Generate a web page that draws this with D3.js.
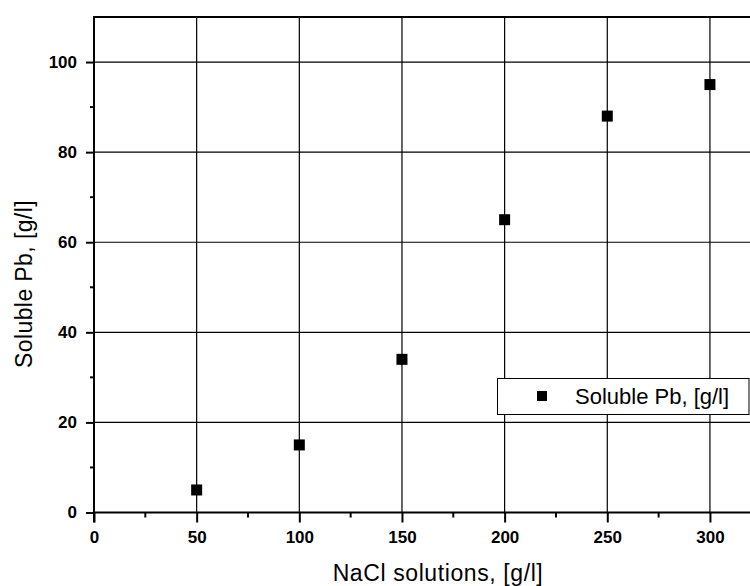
<!DOCTYPE html>
<html>
<head>
<meta charset="utf-8">
<title>Soluble Pb vs NaCl</title>
<script src="https://cdnjs.cloudflare.com/ajax/libs/d3/7.8.5/d3.min.js"></script>
<style>
  body { margin: 0; background: #fff; }
  svg { display: block; font-family: "Liberation Sans", Arial, sans-serif; }
  .tick text { font-weight: bold; font-size: 17px; fill: #000; }
</style>
</head>
<body>
<svg id="chart" width="750" height="586"></svg>
<script>
// data
var nacl = [50, 100, 150, 200, 250, 300];
var solublePb = [5, 15, 34, 65, 88, 95];
var xTicks = [0, 50, 100, 150, 200, 250, 300];
var yTicks = [0, 20, 40, 60, 80, 100];
var xMinor = [25, 75, 125, 175, 225, 275];
var yMinor = [10, 30, 50, 70, 90];
var seriesName = "Soluble Pb, [g/l]";

var svg = d3.select("#chart");
// plot box (the right side runs past the window edge, as in the original)
var pLeft = 94, pRight = 751, pTop = 17, pBottom = 512.5;

var x = d3.scaleLinear().domain([0, 320]).range([pLeft, pRight]);
var y = d3.scaleLinear().domain([0, 110]).range([pBottom, pTop]);

// grid
svg.append("g").selectAll("line").data(xTicks.slice(1)).enter().append("line")
  .attr("x1", d => x(d)).attr("x2", d => x(d))
  .attr("y1", pTop).attr("y2", pBottom)
  .attr("stroke", "#000").attr("stroke-width", 1.2);
svg.append("g").selectAll("line").data(yTicks.slice(1)).enter().append("line")
  .attr("x1", pLeft).attr("x2", pRight)
  .attr("y1", d => y(d)).attr("y2", d => y(d))
  .attr("stroke", "#000").attr("stroke-width", 1.2);

// axes
var xAxis = svg.append("g").attr("transform", "translate(0," + pBottom + ")")
  .call(d3.axisBottom(x).tickValues(xTicks).tickSize(10).tickPadding(8).tickFormat(d3.format("d")));
var yAxis = svg.append("g").attr("transform", "translate(" + pLeft + ",0)")
  .call(d3.axisLeft(y).tickValues(yTicks).tickSize(8).tickPadding(9).tickFormat(d3.format("d")));
[xAxis, yAxis].forEach(function(a) {
  a.select(".domain").remove();
  a.selectAll(".tick line").attr("stroke", "#000").attr("stroke-width", 2);
});

// minor ticks
svg.append("g").selectAll("line").data(xMinor).enter().append("line")
  .attr("x1", d => x(d)).attr("x2", d => x(d))
  .attr("y1", pBottom).attr("y2", pBottom + 5)
  .attr("stroke", "#000").attr("stroke-width", 2);
svg.append("g").selectAll("line").data(yMinor).enter().append("line")
  .attr("x1", pLeft - 4).attr("x2", pLeft)
  .attr("y1", d => y(d)).attr("y2", d => y(d))
  .attr("stroke", "#000").attr("stroke-width", 2);

// frame lines
svg.append("line").attr("x1", pLeft).attr("x2", pLeft).attr("y1", pTop - 1).attr("y2", pBottom + 10)
  .attr("stroke", "#000").attr("stroke-width", 2);
svg.append("line").attr("x1", pLeft - 1).attr("x2", pRight).attr("y1", pBottom).attr("y2", pBottom)
  .attr("stroke", "#000").attr("stroke-width", 2);
svg.append("line").attr("x1", pLeft - 1).attr("x2", pRight).attr("y1", pTop).attr("y2", pTop)
  .attr("stroke", "#000").attr("stroke-width", 2);

// points
var sz = 11;
svg.append("g").selectAll("rect").data(nacl).enter().append("rect")
  .attr("x", (d, i) => x(d) - sz / 2)
  .attr("y", (d, i) => y(solublePb[i]) - sz / 2)
  .attr("width", sz).attr("height", sz)
  .attr("fill", "#000");

// legend
var lg = svg.append("g");
lg.append("rect").attr("x", 497.5).attr("y", 378.5).attr("width", 251.5).attr("height", 36)
  .attr("fill", "#fff").attr("stroke", "#000").attr("stroke-width", 1);
lg.append("rect").attr("x", 542 - 5).attr("y", 396 - 5).attr("width", 10).attr("height", 10).attr("fill", "#000");
lg.append("text").attr("x", 575).attr("y", 404).attr("font-size", 22).text(seriesName);

// axis titles
svg.append("text").attr("x", 438).attr("y", 581).attr("text-anchor", "middle")
  .attr("font-size", 23).attr("letter-spacing", 0.6).text("NaCl solutions, [g/l]");
svg.append("text").attr("transform", "translate(32,284) rotate(-90)").attr("text-anchor", "middle")
  .attr("font-size", 23).attr("letter-spacing", 0.4).text("Soluble Pb, [g/l]");
</script>
</body>
</html>
